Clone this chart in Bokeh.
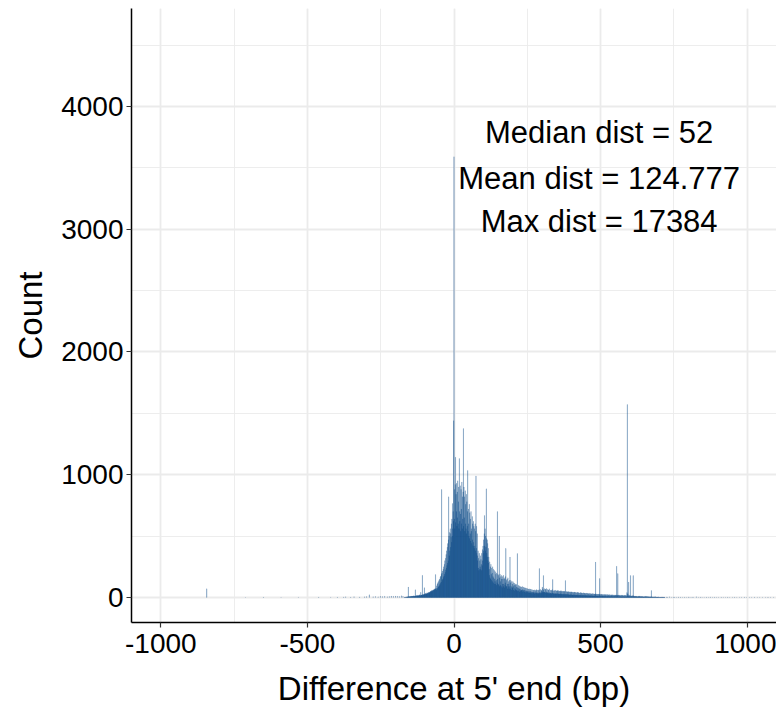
from bokeh.plotting import figure
from bokeh.models import ColumnDataSource, Range1d, SingleIntervalTicker
from bokeh.core.properties import value
from bokeh.embed import file_html
from bokeh.resources import INLINE

# ---------------- data (counts per 1-bp bin) ----------------
# bins -170 .. -61
counts_m170 = [
    2, 0, 3, 1, 4, 2, 0, 5, 3, 2,
    6, 4, 3, 8, 85, 5, 7, 4, 9, 6,
    8, 5, 10, 7, 6, 12, 9, 7, 11, 8,
    10, 9, 14, 8, 12, 10, 7, 13, 63, 11,
    12, 15, 10, 14, 18, 11, 16, 13, 12, 17,
    15, 19, 14, 22, 16, 18, 13, 43, 20, 17,
    21, 18, 180, 24, 19, 26, 22, 20, 28, 80,
    27, 24, 31, 26, 35, 29, 33, 28, 38, 32,
    36, 30, 41, 34, 39, 45, 37, 43, 40, 48,
    44, 52, 47, 55, 50, 58, 53, 49, 60, 56,
    62, 58, 66, 60, 70, 64, 68, 187, 72, 75,
]
# bins -60 .. -1
counts_m60 = [
    60, 95, 70, 110, 75, 120, 85, 130, 90, 140,
    95, 150, 105, 165, 115, 175, 125, 190, 880, 200,
    140, 215, 150, 230, 163, 250, 175, 270, 190, 300,
    205, 320, 225, 350, 240, 380, 260, 410, 280, 440,
    300, 470, 820, 500, 340, 530, 380, 560, 410, 521,
    491, 600, 450, 640, 500, 766, 560, 700, 620, 1440,
]
# bins 0 .. 99
counts_0 = [
    3590, 640, 880, 560, 920, 1143, 610, 840, 700, 930,
    580, 860, 650, 950, 600, 780, 900, 560, 1132, 700,
    620, 910, 680, 540, 880, 720, 600, 940, 560, 820,
    640, 860, 1376, 580, 900, 650, 820, 540, 870, 600,
    760, 560, 840, 520, 780, 580, 700, 1035, 540, 720,
    600, 500, 760, 480, 690, 520, 640, 460, 700, 540,
    560, 440, 660, 470, 600, 420, 620, 450, 580, 400,
    560, 420, 600, 380, 540, 990, 400, 580, 360, 520,
    340, 300, 380, 240, 320, 220, 360, 230, 300, 250,
    340, 230, 310, 270, 220, 360, 260, 390, 300, 420,
]
# bins 100 .. 299
counts_100 = [
    380, 470, 360, 520, 668, 420, 560, 380, 500, 410,
    885, 480, 360, 470, 330, 440, 300, 400, 280, 330,
    230, 180, 290, 160, 250, 150, 270, 190, 140, 240,
    200, 130, 250, 170, 120, 230, 160, 110, 220, 150,
    130, 210, 110, 190, 140, 100, 200, 120, 700, 150,
    190, 110, 180, 100, 500, 160, 90, 190, 130, 100,
    170, 90, 150, 180, 80, 170, 110, 150, 90, 180,
    110, 160, 80, 150, 100, 120, 170, 400, 90, 140,
    90, 150, 110, 70, 160, 90, 130, 110, 70, 140,
    90, 329, 120, 70, 140, 90, 60, 130, 80, 110,
    80, 130, 90, 60, 120, 100, 55, 115, 75, 100,
    65, 110, 60, 105, 85, 55, 358, 80, 50, 100,
    75, 55, 95, 70, 45, 90, 65, 50, 88, 60,
    85, 55, 60, 90, 65, 45, 85, 60, 50, 80,
    60, 45, 80, 55, 40, 78, 55, 42, 75, 52,
    48, 72, 40, 68, 50, 38, 70, 48, 36, 66,
    50, 38, 68, 46, 34, 64, 44, 32, 62, 42,
    45, 60, 36, 58, 40, 30, 62, 40, 56, 34,
    58, 36, 64, 40, 32, 60, 38, 30, 58, 36,
    62, 236, 40, 34, 66, 40, 32, 60, 38, 56,
]
# bins 300 .. 479
counts_300 = [
    50, 85, 40, 70, 45, 179, 60, 38, 72, 44,
    42, 68, 36, 64, 40, 74, 46, 34, 66, 38,
    40, 62, 32, 60, 36, 70, 40, 30, 58, 34,
    36, 60, 30, 56, 34, 64, 36, 147, 52, 30,
    34, 58, 28, 54, 32, 60, 34, 28, 52, 30,
    54, 30, 58, 32, 52, 28, 56, 30, 50, 26,
    52, 28, 55, 30, 50, 26, 54, 28, 48, 25,
    50, 27, 52, 26, 48, 25, 52, 27, 46, 24,
    138, 26, 50, 25, 46, 24, 48, 26, 44, 22,
    46, 24, 48, 22, 44, 21, 46, 24, 42, 20,
    44, 22, 46, 21, 42, 20, 44, 22, 40, 19,
    42, 21, 44, 20, 40, 18, 42, 20, 38, 18,
    40, 19, 42, 18, 38, 17, 40, 19, 36, 17,
    38, 18, 40, 17, 36, 16, 38, 18, 34, 16,
    36, 17, 38, 16, 34, 15, 36, 17, 32, 15,
    34, 16, 36, 15, 32, 14, 34, 16, 30, 14,
    32, 15, 34, 14, 30, 13, 32, 15, 29, 13,
    30, 14, 32, 13, 29, 12, 31, 14, 28, 12,
]
# bins 480 .. 599
counts_480 = [
    28, 14, 30, 288, 26, 12, 29, 14, 27, 11,
    26, 12, 28, 10, 25, 11, 27, 155, 24, 10,
    25, 10, 26, 9, 24, 10, 25, 11, 23, 9,
    24, 9, 25, 8, 23, 9, 24, 10, 22, 8,
    23, 8, 24, 8, 22, 9, 23, 9, 21, 8,
    22, 8, 23, 7, 21, 8, 22, 9, 20, 7,
    21, 7, 22, 7, 20, 8, 21, 8, 19, 7,
    20, 7, 21, 6, 19, 255, 20, 7, 18, 195,
    19, 6, 20, 6, 18, 7, 19, 7, 17, 6,
    18, 6, 19, 5, 17, 6, 18, 7, 16, 5,
    17, 5, 18, 5, 16, 6, 17, 6, 15, 5,
    40, 1572, 30, 8, 22, 7, 125, 9, 14, 6,
]
# bins 600 .. 719
counts_600 = [
    20, 7, 179, 8, 12, 6, 13, 7, 11, 5,
    16, 179, 13, 6, 10, 5, 12, 6, 9, 5,
    11, 5, 9, 6, 10, 4, 8, 5, 9, 4,
    11, 4, 10, 5, 12, 4, 10, 3, 9, 5,
    8, 4, 7, 5, 8, 3, 7, 4, 6, 3,
    9, 3, 8, 4, 10, 3, 8, 3, 9, 3,
    8, 3, 7, 4, 6, 3, 5, 3, 6, 4,
    6, 3, 5, 57, 6, 3, 5, 3, 4, 2,
    5, 2, 4, 3, 5, 2, 6, 2, 5, 2,
    4, 2, 3, 3, 4, 1, 5, 2, 3, 2,
    3, 1, 2, 2, 3, 1, 2, 2, 4, 1,
    3, 1, 4, 2, 2, 1, 4, 1, 3, 1,
]
# sparse tails (bin position, count)
left_tail_pos = [-843, -712, -650, -590, -531, -461, -420, -398, -376, -369, -352,
                 -341, -322, -305, -298, -289, -276, -268, -259, -251, -244, -236,
                 -228, -221, -214, -207, -199, -192, -186, -179, -174]
left_tail_cnt = [71, 1, 3, 1, 2, 3, 2, 3, 4, 5, 3,
                 6, 4, 5, 7, 22, 6, 8, 5, 9, 7, 10,
                 6, 8, 11, 9, 12, 10, 8, 14, 9]
right_tail_pos = [724, 729, 735, 741, 748, 753, 760, 766, 773, 779, 786, 792, 799, 805,
                  812, 818, 826, 833, 840, 846, 853, 861, 868, 874, 882, 889, 896, 903,
                  911, 918, 926, 934, 941, 949, 957, 965, 973, 981, 990, 998, 1007, 1016,
                  1025, 1034, 1043, 1052, 1062, 1071, 1080, 1090]
right_tail_cnt = [4, 3, 5, 2, 4, 3, 2, 4, 3, 2, 3, 2, 4, 2,
                  3, 2, 5, 2, 3, 2, 2, 3, 2, 4, 2, 3, 2, 2,
                  3, 2, 2, 3, 2, 2, 3, 2, 2, 2, 3, 2, 2, 2,
                  3, 2, 2, 2, 2, 3, 2, 2]

x_ticks = [-1000, -500, 0, 500, 1000]
y_ticks = [0, 1000, 2000, 3000, 4000]
stat_labels = ["Median dist = 52", "Mean dist = 124.777", "Max dist = 17384"]

# ---------------- assemble ----------------
segments = [(-170, counts_m170), (-60, counts_m60), (0, counts_0), (100, counts_100),
            (300, counts_300), (480, counts_480), (600, counts_600)]
bins, counts = [], []
for start, vals in segments:
    bins += list(range(start, start + len(vals)))
    counts += vals
bins += left_tail_pos + right_tail_pos
counts += left_tail_cnt + right_tail_cnt

src = ColumnDataSource(dict(x=bins, top=counts))

FONT = "Liberation Sans"
BAR = "#104E8B"

p = figure(width=776, height=711, output_backend="svg", toolbar_location=None,
           x_range=Range1d(-1100, 1100), y_range=Range1d(-204, 4798),
           min_border_left=131, min_border_right=0, min_border_top=8,
           min_border_bottom=89)
p.outline_line_color = None
p.background_fill_color = "white"
p.border_fill_color = "white"

p.vbar(x="x", top="top", bottom=0, width=1, source=src,
       fill_color=BAR, line_color=BAR, line_width=0.15)

ann_src = ColumnDataSource(dict(x=[495, 495, 495], y=[3788, 3413, 3063], t=stat_labels))
p.text(x="x", y="y", text="t", source=ann_src, text_align="center",
       text_baseline="middle", text_font=value(FONT), text_font_size="31px",
       text_color="black")

p.xaxis.ticker = SingleIntervalTicker(interval=500, num_minor_ticks=2)
p.yaxis.ticker = SingleIntervalTicker(interval=1000, num_minor_ticks=2)
p.xaxis.major_label_overrides = {v: str(v) for v in x_ticks}
p.yaxis.major_label_overrides = {v: str(v) for v in y_ticks}

for g in (p.xgrid, p.ygrid):
    g.grid_line_color = "#ebebeb"
    g.grid_line_width = 1.8
    g.minor_grid_line_color = "#ebebeb"
    g.minor_grid_line_width = 0.9

for ax in (p.xaxis, p.yaxis):
    ax.axis_line_color = "black"
    ax.axis_line_width = 1.5
    ax.major_tick_line_color = "#333333"
    ax.major_tick_line_width = 1.2
    ax.major_tick_out = 5
    ax.major_tick_in = 0
    ax.minor_tick_out = 0
    ax.minor_tick_in = 0
    ax.major_label_text_font = FONT
    ax.major_label_text_font_size = "28px"
    ax.major_label_text_color = "black"
    ax.axis_label_text_font = FONT
    ax.axis_label_text_font_size = "33px"
    ax.axis_label_text_font_style = "normal"
    ax.axis_label_text_color = "black"

p.xaxis.major_label_standoff = 6
p.yaxis.major_label_standoff = 3
p.xaxis.axis_label = "Difference at 5' end (bp)"
p.yaxis.axis_label = "Count"
p.xaxis.axis_label_standoff = 14
p.yaxis.axis_label_standoff = 9

open("out.html", "w").write(file_html(p, INLINE))
